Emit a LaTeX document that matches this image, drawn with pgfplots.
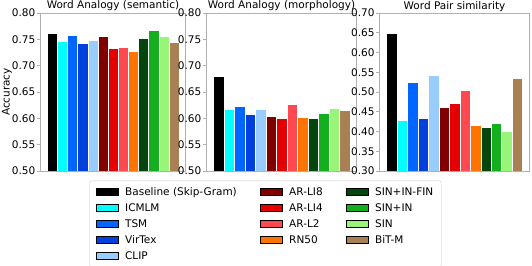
\documentclass[border=0pt]{standalone}
\usepackage{fontspec}
\setmainfont{DejaVu Sans}
\usepackage{pgfplots}
\pgfplotsset{compat=1.18}
\definecolor{c1}{RGB}{0,0,0}
\definecolor{c2}{RGB}{0,255,255}
\definecolor{c3}{RGB}{0,102,255}
\definecolor{c4}{RGB}{0,64,221}
\definecolor{c5}{RGB}{153,204,255}
\definecolor{c6}{RGB}{128,0,0}
\definecolor{c7}{RGB}{228,0,0}
\definecolor{c8}{RGB}{255,72,80}
\definecolor{c9}{RGB}{255,115,0}
\definecolor{c10}{RGB}{5,70,15}
\definecolor{c11}{RGB}{20,175,30}
\definecolor{c12}{RGB}{152,245,122}
\definecolor{c13}{RGB}{168,128,84}
\definecolor{spine}{RGB}{176,176,176}
\pgfplotsset{
  panel/.style={
    scale only axis, height=158pt,
    anchor=south west,
    ybar, bar width=1, bar shift=0pt,
    xmin=-1.15, xmax=13.15,
    xtick=\empty,
    axis line style={spine, line width=0.8pt},
    ytick style={spine, line width=0.8pt},
    tick align=outside, tick pos=left,
    major tick length=3.5pt,
    font=\fontsize{10.5}{12}\selectfont,
    every axis title shift=0pt,
    title style={font=\fontsize{10.5}{12}\selectfont, at={(0.5,1)}, anchor=base, yshift=4pt, inner sep=0pt},
    yticklabel style={inner xsep=1.5pt, /pgf/number format/.cd, fixed, fixed zerofill, precision=2, /pgf/number format/assume math mode=true},
    every axis plot/.append style={draw=white, line width=0.25pt},
  }
}
\begin{document}
\begin{tikzpicture}
\useasboundingbox (0pt,0pt) rectangle (532pt,265pt);
% Panel 1
\begin{axis}[panel, at={(40.5pt,94pt)}, width=145pt, ymin=0.5, ymax=0.8,
  ytick={0.5,0.55,...,0.8}, title={Word Analogy (semantic)},
  ylabel={Accuracy}, ylabel style={yshift=-5pt}]
\addplot[fill=c1] coordinates {(0,0.761)};
\addplot[fill=c2] coordinates {(1,0.746)};
\addplot[fill=c3] coordinates {(2,0.758)};
\addplot[fill=c4] coordinates {(3,0.742)};
\addplot[fill=c5] coordinates {(4,0.748)};
\addplot[fill=c6] coordinates {(5,0.756)};
\addplot[fill=c7] coordinates {(6,0.734)};
\addplot[fill=c8] coordinates {(7,0.736)};
\addplot[fill=c9] coordinates {(8,0.728)};
\addplot[fill=c10] coordinates {(9,0.753)};
\addplot[fill=c11] coordinates {(10,0.767)};
\addplot[fill=c12] coordinates {(11,0.757)};
\addplot[fill=c13] coordinates {(12,0.744)};
\end{axis}
% Panel 2
\begin{axis}[panel, at={(206.5pt,94pt)}, width=150pt, ymin=0.5, ymax=0.8,
  ytick={0.5,0.55,...,0.8}, title={Word Analogy (morphology)}]
\addplot[fill=c1] coordinates {(0,0.681)};
\addplot[fill=c2] coordinates {(1,0.618)};
\addplot[fill=c3] coordinates {(2,0.624)};
\addplot[fill=c4] coordinates {(3,0.608)};
\addplot[fill=c5] coordinates {(4,0.617)};
\addplot[fill=c6] coordinates {(5,0.605)};
\addplot[fill=c7] coordinates {(6,0.601)};
\addplot[fill=c8] coordinates {(7,0.627)};
\addplot[fill=c9] coordinates {(8,0.602)};
\addplot[fill=c10] coordinates {(9,0.600)};
\addplot[fill=c11] coordinates {(10,0.609)};
\addplot[fill=c12] coordinates {(11,0.619)};
\addplot[fill=c13] coordinates {(12,0.616)};
\end{axis}
% Panel 3
\begin{axis}[panel, at={(379.7pt,94pt)}, width=149.6pt, ymin=0.3, ymax=0.7,
  ytick={0.3,0.35,...,0.7}, title={Word Pair similarity}]
\addplot[fill=c1] coordinates {(0,0.648)};
\addplot[fill=c2] coordinates {(1,0.429)};
\addplot[fill=c3] coordinates {(2,0.524)};
\addplot[fill=c4] coordinates {(3,0.434)};
\addplot[fill=c5] coordinates {(4,0.542)};
\addplot[fill=c6] coordinates {(5,0.461)};
\addplot[fill=c7] coordinates {(6,0.472)};
\addplot[fill=c8] coordinates {(7,0.505)};
\addplot[fill=c9] coordinates {(8,0.415)};
\addplot[fill=c10] coordinates {(9,0.411)};
\addplot[fill=c11] coordinates {(10,0.421)};
\addplot[fill=c12] coordinates {(11,0.402)};
\addplot[fill=c13] coordinates {(12,0.534)};
\end{axis}
% Legend
\begin{axis}[at={(0pt,0pt)}, anchor=south west, scale only axis, width=532pt, height=265pt,
  hide axis, xmin=0, xmax=1, ymin=0, ymax=1,
  legend columns=3,
  legend image code/.code={\fill[#1, sharp corners] (0pt,-3.5pt) rectangle (22pt,3.5pt);
    \path (27pt,0pt);},
  legend style={at={(265.5/532,41/265)}, anchor=center, draw=spine!70, rounded corners=2pt,
    font=\fontsize{10.5}{12}\selectfont, legend cell align=left,
    inner xsep=6pt, inner ysep=4.5pt, row sep=2.6pt,
    /tikz/every even column/.append style={column sep=21pt}}]
\addlegendimage{fill=c1}\addlegendentry{Baseline (Skip-Gram)}
\addlegendimage{fill=c6}\addlegendentry{AR-LI8}
\addlegendimage{fill=c10}\addlegendentry{SIN+IN-FIN}
\addlegendimage{fill=c2}\addlegendentry{ICMLM}
\addlegendimage{fill=c7}\addlegendentry{AR-LI4}
\addlegendimage{fill=c11}\addlegendentry{SIN+IN}
\addlegendimage{fill=c3}\addlegendentry{TSM}
\addlegendimage{fill=c8}\addlegendentry{AR-L2}
\addlegendimage{fill=c12}\addlegendentry{SIN}
\addlegendimage{fill=c4}\addlegendentry{VirTex}
\addlegendimage{fill=c9}\addlegendentry{RN50}
\addlegendimage{fill=c13}\addlegendentry{BiT-M}
\addlegendimage{fill=c5}\addlegendentry{CLIP}
\end{axis}
\end{tikzpicture}
\end{document}
